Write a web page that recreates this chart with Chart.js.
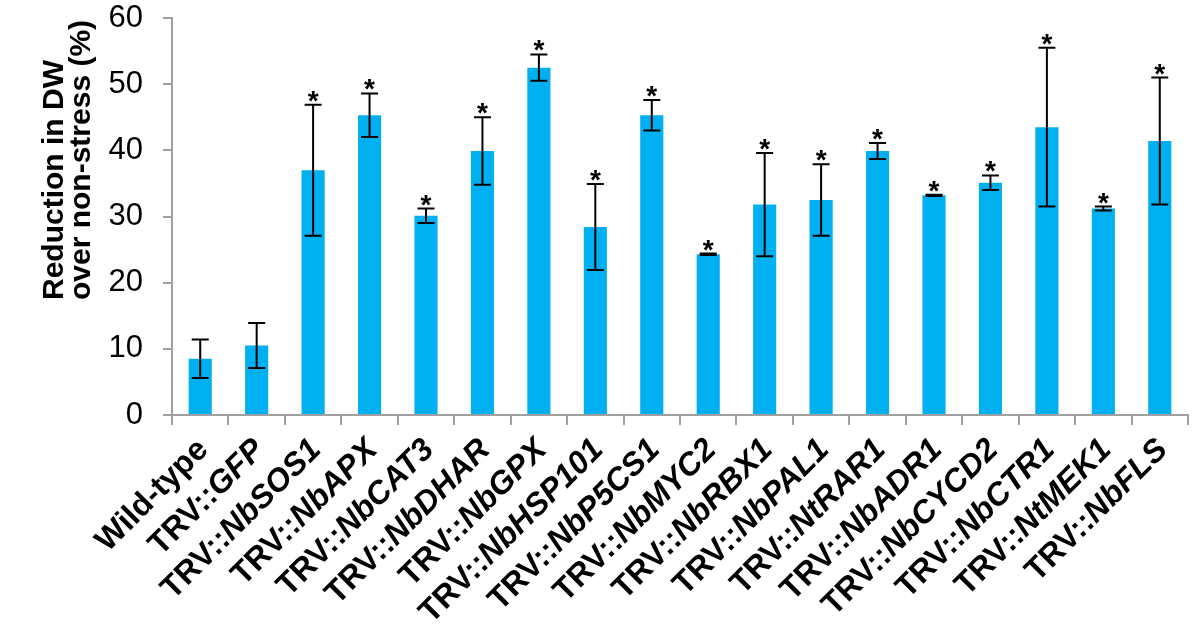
<!DOCTYPE html>
<html>
<head>
<meta charset="utf-8">
<script src="https://cdn.jsdelivr.net/npm/chart.js@4.4.1/dist/chart.umd.min.js"></script>
<style>
  html, body { margin: 0; padding: 0; background: #fff; }
  #wrap { width: 1200px; height: 631px; }
</style>
</head>
<body>
<div id="wrap"><canvas id="dwChart"></canvas></div>
<script>
var categories = ["Wild-type", "TRV::GFP", "TRV::NbSOS1", "TRV::NbAPX", "TRV::NbCAT3", "TRV::NbDHAR",
  "TRV::NbGPX", "TRV::NbHSP101", "TRV::NbP5CS1", "TRV::NbMYC2", "TRV::NbRBX1", "TRV::NbPAL1",
  "TRV::NtRAR1", "TRV::NbADR1", "TRV::NbCYCD2", "TRV::NbCTR1", "TRV::NtMEK1", "TRV::NbFLS"];
var reduction = [8.5, 10.5, 37.0, 45.3, 30.1, 39.9, 52.5, 28.4, 45.3, 24.3, 31.8, 32.5, 39.9, 33.2, 35.1, 43.5, 31.2, 41.4];
var errors = [2.9, 3.4, 9.9, 3.3, 1.1, 5.1, 2.0, 6.5, 2.3, 0.1, 7.8, 5.4, 1.2, 0.1, 1.1, 12.0, 0.3, 9.6];
var marks = ["", "", "*", "*", "*", "*", "*", "*", "*", "*", "*", "*", "*", "*", "*", "*", "*", "*"];
var yMin = 0, yMax = 60, yStep = 10;
var yTitleLines = ["Reduction in DW", "over non-stress (%)"];

var FONT = "'Liberation Sans', Arial, sans-serif";
var AXIS_GREY = "#a0a0a0";

// error bars + significance stars
var errorBarPlugin = {
  id: "errorBars",
  afterDatasetsDraw: function (chart) {
    var ctx = chart.ctx;
    var y = chart.scales.y;
    var meta = chart.getDatasetMeta(0);
    ctx.save();
    ctx.strokeStyle = "#000";
    ctx.lineWidth = 2;
    ctx.fillStyle = "#000";
    ctx.font = "bold 28px " + FONT;
    ctx.textAlign = "center";
    ctx.textBaseline = "alphabetic";
    meta.data.forEach(function (bar, i) {
      var v = reduction[i], e = errors[i];
      var top = y.getPixelForValue(v + e);
      var bot = y.getPixelForValue(v - e);
      var x = bar.x;
      ctx.beginPath();
      ctx.moveTo(x, top); ctx.lineTo(x, bot);
      ctx.moveTo(x - 8.5, top); ctx.lineTo(x + 8.5, top);
      ctx.moveTo(x - 8.5, bot); ctx.lineTo(x + 8.5, bot);
      ctx.stroke();
      if (marks[i]) ctx.fillText(marks[i], x, top + 5);
    });
    ctx.restore();
  }
};

// rotated category labels: "TRV::" upright, gene name italic
var xLabelPlugin = {
  id: "xLabels",
  afterDraw: function (chart) {
    var ctx = chart.ctx;
    var x = chart.scales.x;
    var base = chart.chartArea.bottom;
    var plain = "bold 32px " + FONT;
    var ital = "italic bold 32px " + FONT;
    ctx.save();
    ctx.fillStyle = "#000";
    ctx.textBaseline = "middle";
    ctx.textAlign = "left";
    categories.forEach(function (lab, i) {
      var cut = lab.indexOf("::");
      var p1 = cut < 0 ? lab : lab.slice(0, cut + 2);
      var p2 = cut < 0 ? "" : lab.slice(cut + 2);
      ctx.font = plain; var w1 = ctx.measureText(p1).width;
      ctx.font = ital; var w2 = ctx.measureText(p2).width;
      var px = x.getPixelForTick(i);
      ctx.save();
      ctx.translate(px + 3, base + 30);
      ctx.rotate(-Math.PI / 4);
      ctx.font = plain; ctx.fillText(p1, -(w1 + w2), 0);
      ctx.font = ital; ctx.fillText(p2, -w2, 0);
      ctx.restore();
    });
    ctx.restore();
  }
};

var yTitlePlugin = {
  id: "yTitle",
  afterDraw: function (chart) {
    var ctx = chart.ctx;
    ctx.save();
    ctx.fillStyle = "#000";
    ctx.font = "bold 30px " + FONT;
    ctx.textAlign = "left";
    ctx.textBaseline = "middle";
    ctx.translate(0, 300);
    ctx.rotate(-Math.PI / 2);
    ctx.fillText(yTitleLines[0], 0, 55);
    ctx.fillText(yTitleLines[1], 0, 82);
    ctx.restore();
  }
};

var ctx = document.getElementById("dwChart").getContext("2d");
var dwChart = new Chart(ctx, {
  type: "bar",
  data: {
    labels: categories,
    datasets: [
      {
        data: reduction,
        backgroundColor: "#00b0f0",
        borderWidth: 0,
        barPercentage: 0.41,
        categoryPercentage: 1.0,
      },
    ],
  },
  options: {
    responsive: true,
    maintainAspectRatio: false,
    animation: false,
    layout: { padding: { top: 18, right: 12, left: 0, bottom: 0 } },
    plugins: {
      legend: { display: false },
      tooltip: { enabled: false },
    },
    scales: {
      x: {
        grid: { offset: true, drawOnChartArea: false, drawTicks: true, tickLength: 10, color: AXIS_GREY, lineWidth: 2 },
        border: { color: AXIS_GREY, width: 2 },
        ticks: { display: false },
        afterFit: function (scale) { scale.height = 216; },
      },
      y: {
        min: yMin,
        max: yMax,
        grid: { drawOnChartArea: false, drawTicks: true, tickLength: 9, color: AXIS_GREY, lineWidth: 2 },
        border: { color: AXIS_GREY, width: 2 },
        ticks: { stepSize: yStep, padding: 20, color: "#000", font: { family: FONT, size: 31 } },
        afterFit: function (scale) {
          scale.width = 172;
          scale.paddingTop = 0;
          scale.paddingBottom = 0;
        },
      },
    },
  },
  plugins: [errorBarPlugin, xLabelPlugin, yTitlePlugin],
});
</script>
</body>
</html>
